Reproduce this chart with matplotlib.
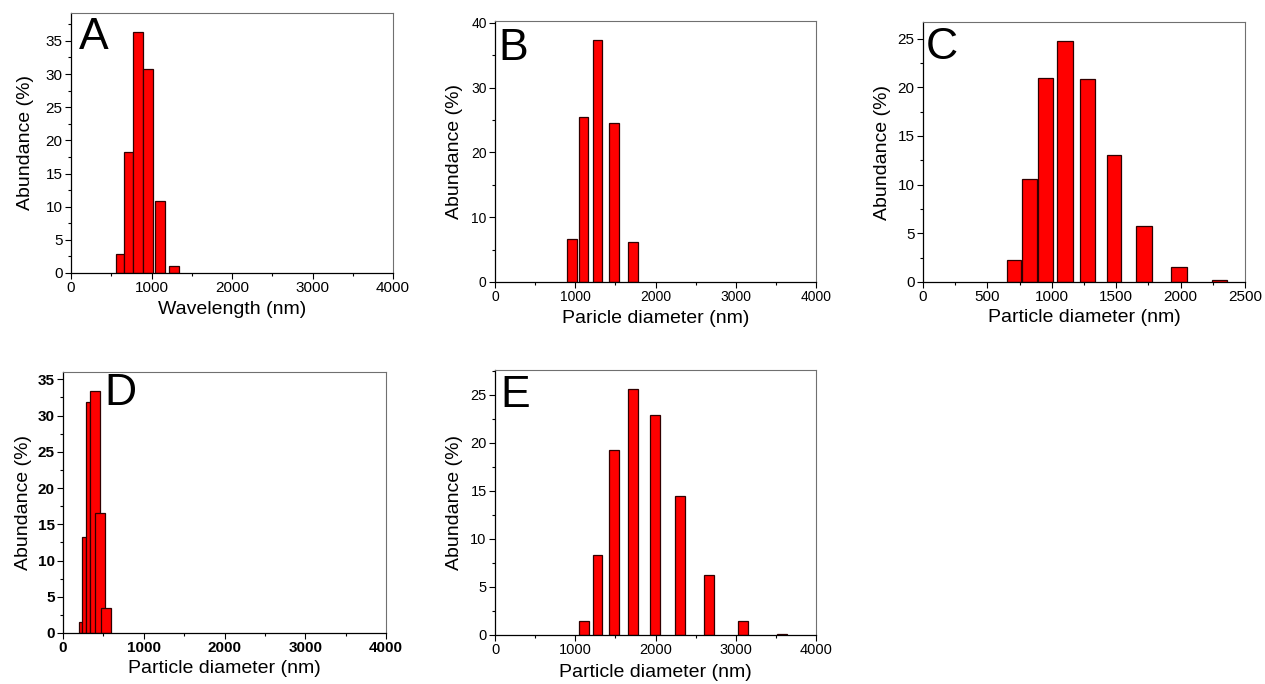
import matplotlib.pyplot as plt
from matplotlib.ticker import MultipleLocator

plt.rcParams["font.family"] = ["Liberation Sans", "DejaVu Sans"]

# bin left edges (nm), bin widths (nm) and abundance (%) for each panel
a_left = [559, 658, 776, 898, 1047, 1221]
a_width = [99, 118, 116, 121, 125, 124]
a_abund = [2.85, 18.2, 36.3, 30.7, 10.8, 1.05]

b_left = [897, 1051, 1221, 1425, 1661]
b_width = [121, 112, 116, 120, 117]
b_abund = [6.6, 25.5, 37.3, 24.5, 6.1]

c_left = [653, 767, 896, 1044, 1218, 1425, 1655, 1927, 2246]
c_width = [111, 119, 117, 122, 119, 116, 120, 120, 117]
c_abund = [2.3, 10.6, 20.9, 24.8, 20.8, 13.0, 5.8, 1.5, 0.2]

d_left = [195, 236, 285, 340, 402, 476]
d_width = [41, 49, 55, 124, 124, 124]
d_abund = [1.5, 13.3, 31.8, 33.4, 16.6, 3.4]

e_left = [1043, 1221, 1425, 1661, 1931, 2247, 2609, 3032, 3518]
e_width = [124, 116, 120, 117, 121, 121, 124, 125, 125]
e_abund = [1.5, 8.3, 19.25, 25.6, 22.9, 14.5, 6.3, 1.5, 0.1]

W, H = 1265, 684
fig = plt.figure(figsize=(W / 100, H / 100), dpi=100)


def make_ax(l, t, r, b):
    return fig.add_axes([l / W, 1 - b / H, (r - l) / W, (b - t) / H])


panels = [
    # box px, data, xlim, ylim, y major/minor, x major/minor, letter, letter pos,
    # xlabel, tick size, weight, x labelpad, y labelpad
    ((71, 13, 393, 273), (a_left, a_width, a_abund), 4000, 39.2, (5, 2.5), (1000, 500),
     "A", (79, 17), "Wavelength (nm)", 11, "normal", 4, 8.5),
    ((495, 21, 816, 282), (b_left, b_width, b_abund), 4000, 40.3, (10, 5), (1000, 500),
     "B", (498, 28), "Paricle diameter (nm)", 10, "normal", 4, 5.5),
    ((923, 22, 1245, 282), (c_left, c_width, c_abund), 2500, 26.7, (5, 2.5), (500, 250),
     "C", (926, 27), "Particle diameter (nm)", 11, "normal", 3.5, 5),
    ((63, 372, 386, 633), (d_left, d_width, d_abund), 4000, 36.0, (5, 2.5), (1000, 500),
     "D", (104, 373), "Particle diameter (nm)", 11, "bold", 3.5, 4),
    ((495, 370, 816, 635), (e_left, e_width, e_abund), 4000, 27.6, (5, 2.5), (1000, 500),
     "E", (500, 375), "Particle diameter (nm)", 10.5, "normal", 4.5, 5.5),
]

for (box, (left, width, abund), xmax, ymax, ytk, xtk, letter, lpos,
     xlabel, tsize, tweight, xpad, ypad) in panels:
    ax = make_ax(*box)
    ax.bar(left, abund, width=width, align="edge", color="#ff0000",
           edgecolor="#300000", linewidth=0.9)
    ax.set_xlim(0, xmax)
    ax.set_ylim(0, ymax)
    ax.yaxis.set_major_locator(MultipleLocator(ytk[0]))
    ax.yaxis.set_minor_locator(MultipleLocator(ytk[1]))
    ax.xaxis.set_major_locator(MultipleLocator(xtk[0]))
    ax.xaxis.set_minor_locator(MultipleLocator(xtk[1]))
    ax.tick_params(which="both", direction="out", top=False, right=False,
                   width=0.8, pad=2, labelsize=tsize)
    ax.tick_params(which="major", length=4)
    ax.tick_params(which="minor", length=2.5)
    for lab in ax.get_xticklabels() + ax.get_yticklabels():
        lab.set_fontweight(tweight)
    for s in ("top", "right"):
        ax.spines[s].set_color("#707070")
        ax.spines[s].set_linewidth(0.8)
    for s in ("left", "bottom"):
        ax.spines[s].set_linewidth(0.9)
    ax.set_xlabel(xlabel, fontsize=14, labelpad=xpad)
    ax.set_ylabel("Abundance (%)", fontsize=14, labelpad=ypad)
    fig.text(lpos[0] / W, 1 - lpos[1] / H, letter, fontsize=32, ha="left", va="top")

fig.savefig("out.png", dpi=100)
